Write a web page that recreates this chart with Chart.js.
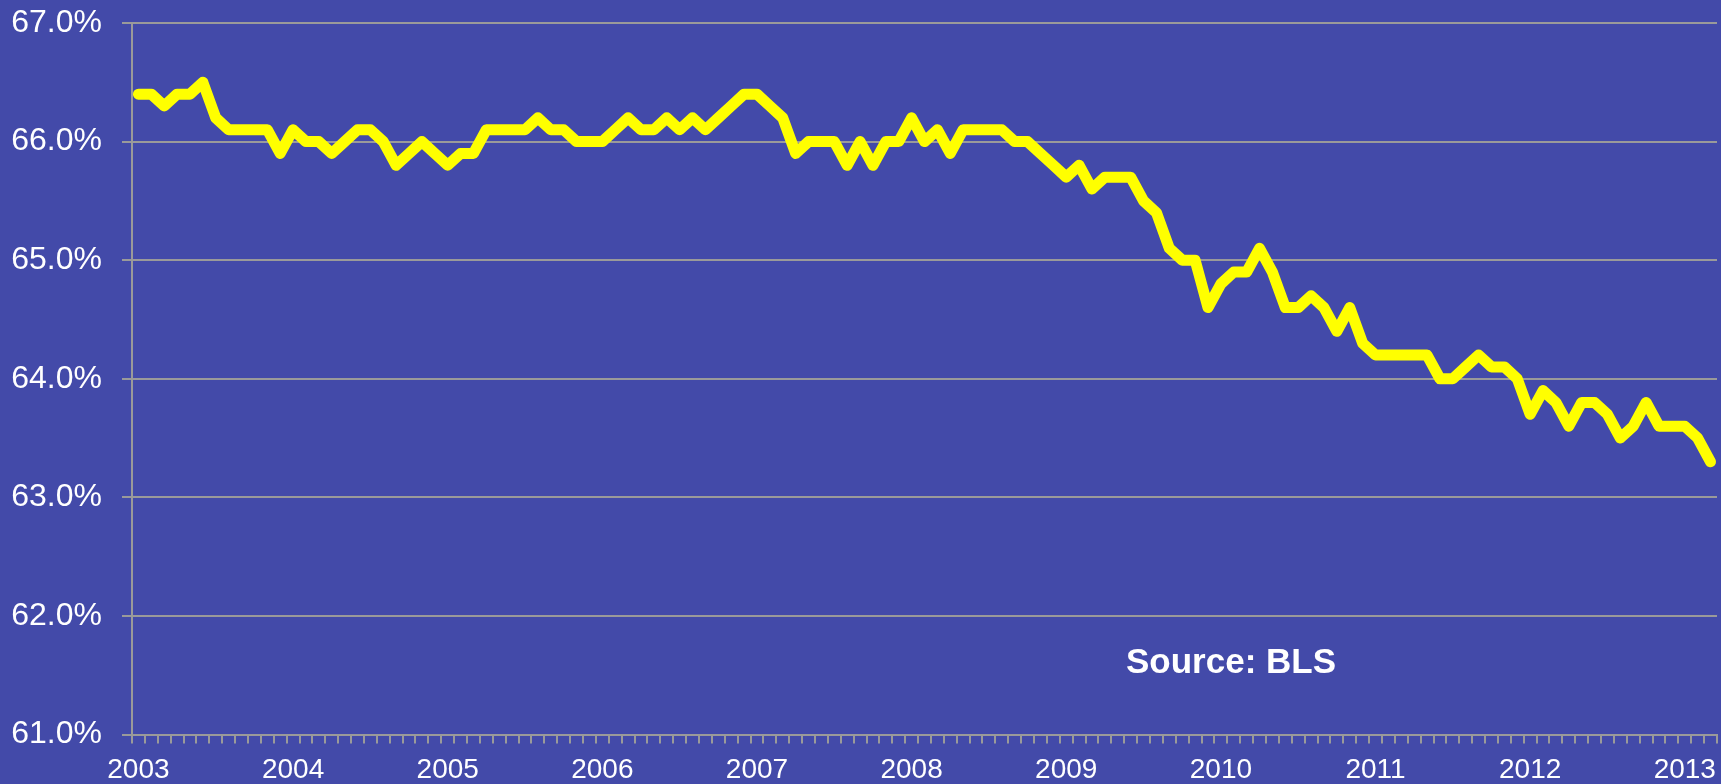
<!DOCTYPE html>
<html>
<head>
<meta charset="utf-8">
<script src="https://cdn.jsdelivr.net/npm/chart.js@4/dist/chart.umd.min.js"></script>
<style>
  body { margin: 0; background: #434aa9; }
  #wrap { position: relative; width: 1721px; height: 784px; }
  #source {
    position: absolute; left: 1126px; top: 641px;
    font: bold 35px "Liberation Sans", Arial, sans-serif; color: #ffffff;
    white-space: nowrap;
  }
</style>
</head>
<body>
<div id="wrap">
  <canvas id="myChart"></canvas>
  <div id="source">Source: BLS</div>
</div>
<script>
// participation rate, monthly, one array per year
const years = [2003, 2004, 2005, 2006, 2007, 2008, 2009, 2010, 2011, 2012, 2013];
const rate2003 = [66.4, 66.4, 66.3, 66.4, 66.4, 66.5, 66.2, 66.1, 66.1, 66.1, 66.1, 65.9];
const rate2004 = [66.1, 66.0, 66.0, 65.9, 66.0, 66.1, 66.1, 66.0, 65.8, 65.9, 66.0, 65.9];
const rate2005 = [65.8, 65.9, 65.9, 66.1, 66.1, 66.1, 66.1, 66.2, 66.1, 66.1, 66.0, 66.0];
const rate2006 = [66.0, 66.1, 66.2, 66.1, 66.1, 66.2, 66.1, 66.2, 66.1, 66.2, 66.3, 66.4];
const rate2007 = [66.4, 66.3, 66.2, 65.9, 66.0, 66.0, 66.0, 65.8, 66.0, 65.8, 66.0, 66.0];
const rate2008 = [66.2, 66.0, 66.1, 65.9, 66.1, 66.1, 66.1, 66.1, 66.0, 66.0, 65.9, 65.8];
const rate2009 = [65.7, 65.8, 65.6, 65.7, 65.7, 65.7, 65.5, 65.4, 65.1, 65.0, 65.0, 64.6];
const rate2010 = [64.8, 64.9, 64.9, 65.1, 64.9, 64.6, 64.6, 64.7, 64.6, 64.4, 64.6, 64.3];
const rate2011 = [64.2, 64.2, 64.2, 64.2, 64.2, 64.0, 64.0, 64.1, 64.2, 64.1, 64.1, 64.0];
const rate2012 = [63.7, 63.9, 63.8, 63.6, 63.8, 63.8, 63.7, 63.5, 63.6, 63.8, 63.6, 63.6];
const rate2013 = [63.6, 63.5, 63.3];
const yTicks = [61, 62, 63, 64, 65, 66, 67];

const byYear = [rate2003, rate2004, rate2005, rate2006, rate2007, rate2008,
  rate2009, rate2010, rate2011, rate2012, rate2013];

// build labels like "2003-01" and flatten the values
const labels = [];
const values = [];
byYear.forEach((arr, i) => {
  arr.forEach((v, m) => {
    labels.push(years[i] + "-" + String(m + 1).padStart(2, "0"));
    values.push(v);
  });
});

const gridGray = "#9a9a9a";
const ctx = document.getElementById("myChart").getContext("2d");
const chart = new Chart(ctx, {
  type: "line",
  data: {
    labels: labels,
    datasets: [
      {
        data: values,
        borderColor: "#ffff00",
        borderWidth: 11,
        borderJoinStyle: "round",
        borderCapStyle: "round",
        pointRadius: 0,
        tension: 0,
      },
    ],
  },
  options: {
    responsive: true,
    maintainAspectRatio: false,
    devicePixelRatio: 1,
    animation: false,
    layout: { padding: { top: 23, right: 4, left: 0, bottom: 0 } },
    plugins: { legend: { display: false }, tooltip: { enabled: false } },
    scales: {
      x: {
        offset: true,
        grid: {
          offset: true,
          drawOnChartArea: false,
          drawTicks: true,
          tickLength: 9,
          color: gridGray,
          lineWidth: 2,
        },
        border: { display: true, color: gridGray, width: 2 },
        ticks: {
          autoSkip: false,
          maxRotation: 0,
          minRotation: 0,
          padding: 10,
          color: "#ffffff",
          font: { family: "'Liberation Sans', Arial, sans-serif", size: 28 },
          callback: function (val, i) {
            const lab = this.getLabelForValue(val);
            return lab.endsWith("-01") ? lab.slice(0, 4) : "";
          },
        },
        afterFit: (scale) => { scale.height = 49.5; },
      },
      y: {
        min: yTicks[0],
        max: yTicks[yTicks.length - 1],
        grid: {
          color: gridGray,
          lineWidth: 2,
          drawTicks: true,
          tickLength: 10,
        },
        border: { display: true, color: gridGray, width: 2 },
        afterBuildTicks: (scale) => {
          scale.ticks = yTicks.map((v) => ({ value: v }));
        },
        ticks: {
          padding: 20,
          color: "#ffffff",
          font: { family: "'Liberation Sans', Arial, sans-serif", size: 32 },
          callback: (v) => v.toFixed(1) + "%",
        },
        afterFit: (scale) => {
          scale.width = 132;
          scale.paddingTop = 0;
          scale.paddingBottom = 0;
        },
      },
    },
  },
});
</script>
</body>
</html>
